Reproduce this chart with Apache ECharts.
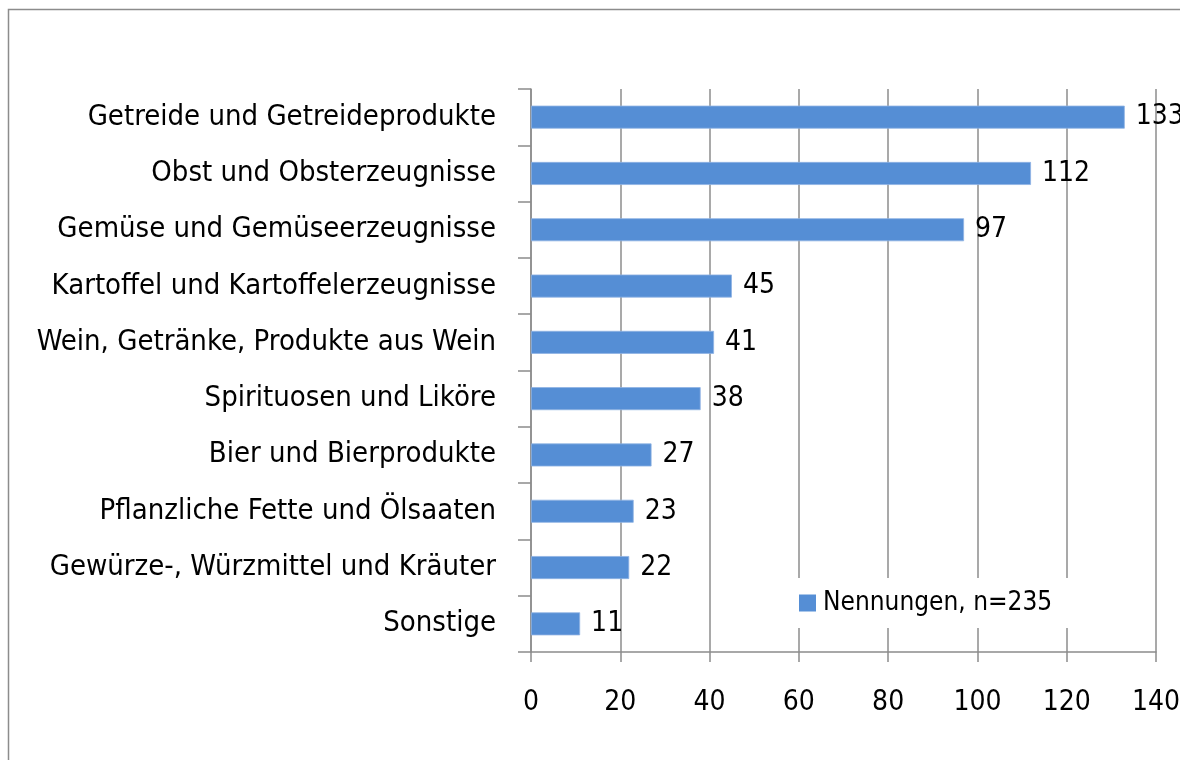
<!DOCTYPE html>
<html>
<head>
<meta charset="utf-8">
<script src="https://cdn.jsdelivr.net/npm/echarts@6/dist/echarts.min.js"></script>
<style>html,body{margin:0;padding:0;background:#fff}#c{width:1180px;height:760px}</style>
</head>
<body>
<div id="c"></div>
<script>
const categories = ["Getreide und Getreideprodukte","Obst und Obsterzeugnisse","Gemüse und Gemüseerzeugnisse","Kartoffel und Kartoffelerzeugnisse","Wein, Getränke, Produkte aus Wein","Spirituosen und Liköre","Bier und Bierprodukte","Pflanzliche Fette und Ölsaaten","Gewürze-, Würzmittel und Kräuter","Sonstige"];
const values = [133,112,97,45,41,38,27,23,22,11];
const seriesName = "Nennungen, n=235";
const xTicks = [0,20,40,60,80,100,120,140];

const FONT = "'Liberation Sans Narrow','Arial Narrow','DejaVu Sans Condensed',sans-serif";
const chart = echarts.init(document.getElementById('c'));
chart.setOption({
  animation: false,
  backgroundColor: '#fff',
  graphic: [{type:'rect', shape:{x:8.5,y:9.5,width:1300,height:900}, style:{fill:'none',stroke:'#8c8c8c',lineWidth:1.5}, silent:true}],
  grid: {left:531, right:24, top:89, height:563, containLabel:false, outerBoundsMode:'none'},
  legend: {
    data:[seriesName], left:796, top:578, padding:[12,96,12,3],
    backgroundColor:'#fff',
    itemWidth:17, itemHeight:17, icon:'rect', itemGap:8,
    itemStyle:{borderWidth:0},
    textStyle:{fontFamily:FONT, fontSize:26, color:'#000', padding:[0,0,0,2]}
  },
  xAxis: {
    type:'value', min:0, max:140, interval:20,
    axisLine:{show:true, lineStyle:{color:'#8c8c8c', width:1.5}},
    axisTick:{show:true, length:10, lineStyle:{color:'#8c8c8c', width:1.5}},
    splitLine:{show:true, lineStyle:{color:'#8c8c8c', width:1.5}},
    axisLabel:{margin:37, fontFamily:FONT, fontSize:28, color:'#000',
      formatter: v => xTicks.includes(v) ? String(v) : ''}
  },
  yAxis: {
    type:'category', data:categories, inverse:true,
    axisLine:{show:true, lineStyle:{color:'#8c8c8c', width:1.5}},
    axisTick:{show:true, length:13, lineStyle:{color:'#8c8c8c', width:1.5}},
    axisLabel:{margin:35, fontFamily:FONT, fontSize:29, color:'#000'}
  },
  series: [{
    name:seriesName, type:'bar', data:values, barWidth:23,
    itemStyle:{color:'#558ED5', borderColor:'#8fb3e3', borderWidth:0.8},
    label:{show:true, position:'right', distance:11, fontFamily:FONT, fontSize:28, color:'#000'}
  }]
});
</script>
</body>
</html>
